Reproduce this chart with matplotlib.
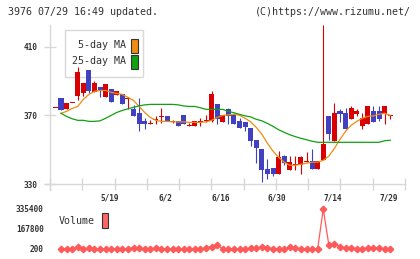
import numpy as np
import matplotlib
matplotlib.use('Agg')
import matplotlib.pyplot as plt
from matplotlib.patches import Rectangle
from matplotlib.lines import Line2D
from matplotlib.transforms import blended_transform_factory


# ── Data ─────────────────────────────────────────────────────────────────────

# daily candles, first one is the day before the volume series starts
opens  = [374.1, 379.9, 373.5, 377.0, 381.0, 382.8, 396.2, 383.8, 386.3, 380.5,
          385.1, 381.6, 382.2, 379.3, 373.5, 371.2, 366.8, 365.1, 367.1, 369.1,
          369.4, 366.2, 366.5, 370.0, 363.6, 363.6, 366.2, 366.8, 366.5, 376.4,
          366.2, 373.5, 370.0, 366.5, 365.9, 362.4, 355.5, 350.2, 338.6, 339.2,
          335.7, 346.2, 338.0, 341.2, 340.9, 343.0, 343.3, 338.6, 343.8, 369.4,
          354.9, 372.3, 371.2, 367.7, 370.6, 363.6, 364.8, 372.3, 372.3, 370.6,
          369.8]
highs  = [374.1, 379.9, 377.0, 377.0, 397.9, 388.6, 396.2, 390.0, 386.3, 388.0,
          385.1, 384.0, 382.2, 379.9, 375.8, 379.9, 368.5, 367.1, 369.4, 374.1,
          369.4, 367.1, 366.5, 370.0, 365.3, 366.5, 368.3, 370.0, 384.0, 376.4,
          370.0, 374.1, 371.2, 368.3, 365.9, 362.4, 355.5, 350.2, 344.4, 339.2,
          349.1, 347.0, 346.2, 346.2, 346.2, 348.5, 350.2, 343.3, 422.6, 369.4,
          377.0, 373.5, 374.1, 375.2, 373.5, 371.2, 375.2, 375.2, 375.2, 375.2,
          370.0]
lows   = [374.1, 373.1, 373.5, 377.0, 378.7, 381.0, 382.8, 383.8, 380.5, 380.5,
          377.6, 381.6, 376.4, 373.5, 369.6, 360.9, 361.9, 364.8, 364.8, 365.3,
          366.5, 365.3, 363.6, 364.8, 363.6, 363.6, 363.6, 365.9, 365.9, 364.8,
          366.2, 364.8, 364.8, 362.4, 360.7, 352.0, 342.1, 331.0, 332.8, 334.5,
          335.7, 340.9, 338.0, 338.0, 335.7, 342.7, 338.6, 338.6, 343.8, 355.5,
          354.9, 365.9, 361.9, 367.7, 369.4, 361.9, 364.8, 365.9, 366.5, 365.0,
          367.7]
closes = [374.1, 373.1, 377.0, 377.0, 395.0, 388.6, 384.0, 388.6, 385.0, 388.0,
          377.6, 384.0, 376.4, 379.5, 369.6, 364.8, 365.1, 365.3, 367.2, 369.4,
          366.5, 366.5, 363.6, 364.8, 364.5, 366.5, 366.5, 367.1, 382.2, 367.7,
          370.0, 369.4, 364.8, 362.4, 363.0, 354.9, 350.8, 338.0, 335.7, 335.7,
          345.6, 342.1, 342.7, 341.5, 345.6, 343.3, 338.6, 343.3, 353.1, 359.0,
          371.2, 370.6, 361.9, 374.1, 372.3, 368.3, 375.2, 365.9, 367.7, 375.2,
          370.0]

ma5  = [371.2, 372.3, 374.0, 375.2, 379.3, 382.2, 384.0, 384.5, 384.5, 383.4,
        382.8, 382.2, 380.5, 378.7, 375.2, 371.7, 368.8, 367.1, 366.5, 366.5,
        366.2, 366.2, 366.2, 365.9, 365.9, 365.9, 366.2, 367.1, 368.8, 370.0,
        370.3, 370.6, 370.0, 368.3, 366.2, 363.0, 359.0, 353.7, 349.1, 345.6,
        342.7, 340.9, 340.9, 341.5, 342.1, 342.7, 342.7, 343.8, 346.2, 350.8,
        356.0, 360.7, 364.2, 366.5, 368.3, 369.4, 369.7, 370.6, 371.2, 370.0]
ma25 = [371.2, 369.4, 368.0, 367.1, 367.1, 366.5, 366.5, 366.8, 368.3, 370.0,
        371.7, 372.9, 373.8, 374.7, 375.5, 376.1, 376.4, 376.4, 376.4, 376.4,
        376.4, 376.1, 375.5, 375.2, 375.2, 374.4, 373.5, 373.5, 373.5, 373.5,
        372.3, 371.5, 370.6, 369.7, 369.1, 367.7, 366.8, 365.3, 363.6, 361.6,
        360.1, 358.7, 357.6, 356.6, 355.8, 354.9, 354.3, 354.3, 354.3, 354.3,
        354.3, 354.3, 354.3, 354.3, 354.3, 354.3, 354.3, 354.3, 355.2, 355.5]

volume = [200, 900, 1200, 20000, 1100, 6000, 1300, 900, 1000, 1400,
          1200, 800, 1300, 12000, 9000, 3000, 1200, 9000, 1000, 1300,
          900, 1100, 1200, 800, 1000, 1400, 9000, 20000, 31000, 1200,
          3000, 3000, 1100, 1300, 6000, 9000, 14000, 9000, 3000, 3000,
          1000, 14000, 6000, 1200, 3000, 1100, 900, 335400, 34000, 45000,
          20000, 9000, 9000, 3000, 1200, 9000, 9000, 6000, 1000, 1300]

date_idx    = [9, 19, 29, 39, 49, 59]
date_labels = ['5/19', '6/2', '6/16', '6/30', '7/14', '7/29']
price_ticks = [330, 370, 410]
vol_ticks   = [200, 167800, 335400]

# ── Style ────────────────────────────────────────────────────────────────────

W, H = 420, 259
RED, BLUE = '#d80000', '#4040c0'
ORANGE, GREEN = '#f08c10', '#10a010'
VOLCOL = '#ff5a5a'
GRID = '#d8d8d8'
TXT = '#333333'
MONO = 'DejaVu Sans Mono'


def px_box(x0, y0, x1, y1):
    return [x0 / W, 1 - y1 / H, (x1 - x0) / W, (y1 - y0) / H]


def fpx(x, y):
    return x / W, 1 - y / H


fig = plt.figure(figsize=(W / 100, H / 100), dpi=100)

# ── Price panel ──────────────────────────────────────────────────────────────
ax = fig.add_axes(px_box(50, 25, 405, 184))
xlo, xhi = -1.97, 61.65
ax.set_xlim(xlo, xhi)
ax.set_ylim(330, 422.65)

xc = np.arange(len(opens)) - 1
for xi, o, h, l, c in zip(xc, opens, highs, lows, closes):
    col = RED if c >= o else BLUE
    ax.vlines(xi, l, h, color=col, lw=0.8, zorder=3)
    ax.bar(xi, max(abs(c - o), 0.6), 0.9, bottom=min(o, c),
           color=col, lw=0, zorder=3)

xm = np.arange(len(ma5))
ax.plot(xm, ma5, color=ORANGE, lw=0.9, zorder=4)
ax.plot(xm, ma25, color=GREEN, lw=0.9, zorder=4)

for s in ('top', 'right'):
    ax.spines[s].set_visible(False)
for s in ('left', 'bottom'):
    ax.spines[s].set_color(GRID)
    ax.spines[s].set_linewidth(1.0)

# axis lines run a little past the corner, as in the original
for (xa, ya), (xb, yb) in (((50, 184), (50, 190)), ((45, 184), (50, 184))):
    p0, p1 = fpx(xa, ya), fpx(xb, yb)
    fig.add_artist(Line2D([p0[0], p1[0]], [p0[1], p1[1]], color=GRID,
                          lw=1.0, transform=fig.transFigure))

ax.set_xticks(np.linspace(xlo, xhi, 12))
ax.set_xticklabels([])
ax.tick_params(axis='x', direction='inout', length=8, color=GRID, width=1.0)
ax.set_yticks(price_ticks)
ax.set_yticklabels([str(t) for t in price_ticks], fontfamily=MONO,
                   fontweight='bold', fontsize=5.6, color=TXT)
ax.tick_params(axis='y', direction='inout', length=8, color=GRID, width=1.0,
               pad=5)

trans = blended_transform_factory(ax.transData, fig.transFigure)
for i, lab in zip(date_idx, date_labels):
    ax.text(i - 0.3, 1 - 198 / H, lab, transform=trans, ha='center',
            va='center', fontfamily=MONO, fontweight='bold', fontsize=5.6,
            color=TXT)

# MA legend box
lx0, ly0 = fpx(65, 77)
ax.add_patch(Rectangle((lx0, ly0), 78 / W, 47 / H, transform=fig.transFigure,
                       facecolor='white', edgecolor=GRID, lw=1.0,
                       clip_on=False, zorder=1))
for lab, col, yt, yb in (('5-day MA', ORANGE, 38, 53),
                         ('25-day MA', GREEN, 54, 69)):
    tx, ty = fpx(126, (yt + yb) / 2)
    fig.text(tx, ty, lab, ha='right', va='center', fontfamily=MONO,
             fontsize=7.2, color=TXT)
    bx, by = fpx(131, yb)
    fig.patches.append(Rectangle((bx, by), 7 / W, (yb - yt - 1) / H,
                                 transform=fig.transFigure, facecolor=col,
                                 edgecolor=TXT, lw=0.8))

# ── Volume panel ─────────────────────────────────────────────────────────────
axv = fig.add_axes(px_box(50, 203, 405, 255))
axv.set_xlim(xlo, xhi)
per_px = (335400 - 200) / 40.0
axv.set_ylim(200 - 6 * per_px, 335400 + 6 * per_px)
axv.plot(np.arange(len(volume)), volume, color=VOLCOL, lw=0.9,
         marker='D', ms=3.3, mec=VOLCOL, mfc=VOLCOL)
for s in axv.spines.values():
    s.set_visible(False)
axv.set_xticks([])
axv.set_yticks(vol_ticks)
axv.set_yticklabels([str(t) for t in vol_ticks], fontfamily=MONO,
                    fontweight='bold', fontsize=5.6, color=TXT)
axv.tick_params(axis='y', length=0, pad=4.5)

vx, vy = fpx(59, 221)
fig.text(vx, vy, 'Volume', ha='left', va='center', fontfamily=MONO,
         fontsize=7.2, color=TXT)
rx, ry = fpx(102, 228)
fig.patches.append(Rectangle((rx, ry), 6 / W, 15 / H,
                             transform=fig.transFigure, facecolor='#ff6666',
                             edgecolor=TXT, lw=0.8))

# ── Header ───────────────────────────────────────────────────────────────────
hx, hy = fpx(8, 12)
fig.text(hx, hy, '3976 07/29 16:49 updated.', ha='left', va='center',
         fontfamily=MONO, fontsize=7.2, color=TXT)
hx, hy = fpx(411, 12)
fig.text(hx, hy, '(C)https://www.rizumu.net/', ha='right', va='center',
         fontfamily=MONO, fontsize=7.2, color=TXT)

fig.savefig('out.png', dpi=100)
